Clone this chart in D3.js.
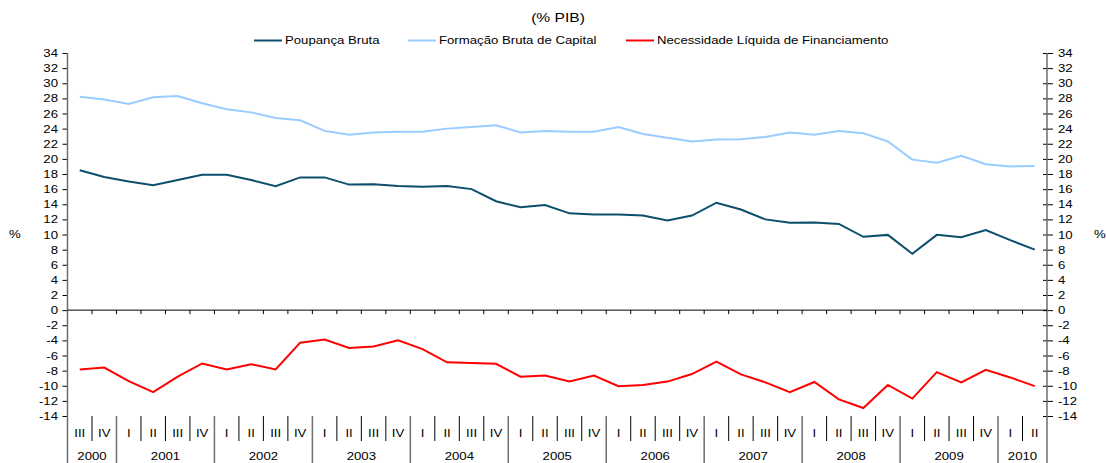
<!DOCTYPE html>
<html>
<head>
<meta charset="utf-8">
<script src="https://cdn.jsdelivr.net/npm/d3@7/dist/d3.min.js"></script>
<style>
  body { margin: 0; background: #fff; }
  text { font-family: "Liberation Sans", Arial, sans-serif; fill: #000; }
</style>
</head>
<body>
<div id="vis"></div>
<script>
// quarters III/2000 .. II/2010
const quarterLabels = [
  'III','IV',
  'I','II','III','IV',
  'I','II','III','IV',
  'I','II','III','IV',
  'I','II','III','IV',
  'I','II','III','IV',
  'I','II','III','IV',
  'I','II','III','IV',
  'I','II','III','IV',
  'I','II','III','IV',
  'I','II'
]
const quarterYears = [
  2000,2000,
  2001,2001,2001,2001,
  2002,2002,2002,2002,
  2003,2003,2003,2003,
  2004,2004,2004,2004,
  2005,2005,2005,2005,
  2006,2006,2006,2006,
  2007,2007,2007,2007,
  2008,2008,2008,2008,
  2009,2009,2009,2009,
  2010,2010
]

const poupanca = [
  18.5, 17.6,
  17.0, 16.5, 17.2, 17.9,
  17.9, 17.2, 16.4, 17.55,
  17.55, 16.6, 16.65, 16.4,
  16.3, 16.4, 16.0, 14.4,
  13.6, 13.9, 12.8, 12.65,
  12.65, 12.5, 11.85, 12.5,
  14.2, 13.3, 12.0, 11.55,
  11.6, 11.4, 9.7, 9.95,
  7.45, 9.95, 9.65, 10.6,
  9.25, 8.0
]
const formacao = [
  28.2, 27.85,
  27.25, 28.15, 28.3, 27.35,
  26.55, 26.15, 25.4, 25.1,
  23.7, 23.2, 23.5, 23.6,
  23.6, 24.0, 24.2, 24.45,
  23.5, 23.7, 23.6, 23.6,
  24.2, 23.3, 22.8, 22.3,
  22.55, 22.6, 22.9, 23.5,
  23.2, 23.7, 23.4, 22.3,
  19.9, 19.5, 20.4, 19.3,
  19.0, 19.05
]
const necessidade = [
  -7.85, -7.6,
  -9.4, -10.85, -8.8, -7.05,
  -7.85, -7.15, -7.85, -4.3,
  -3.9, -5.0, -4.8, -4.0,
  -5.15, -6.9, -7.0, -7.1,
  -8.8, -8.65, -9.45, -8.65,
  -10.05, -9.9, -9.45, -8.45,
  -6.8, -8.5, -9.55, -10.85,
  -9.5, -11.8, -12.95, -9.9,
  -11.7, -8.2, -9.55, -7.9,
  -8.9, -10.05
]

const seriesNames = ['Poupança Bruta', 'Formação Bruta de Capital', 'Necessidade Líquida de Financiamento']
const seriesColors = ['#0b4f6c', '#99ccff', '#ff0000']
const seriesData = [poupanca, formacao, necessidade]

const W = 1106, H = 463
const plotLeft = 67.5, plotRight = 1047
const plotTop = 53, plotBottom = 416
const sx = 1.2   // text in the original is stretched horizontally

const svg = d3.select('#vis')
  .append('svg')
  .attr('width', W)
  .attr('height', H)

const idx = d3.range(quarterLabels.length)

const xScale = d3.scaleBand()
  .domain(idx)
  .range([plotLeft, plotRight])
  .padding(0)
const xc = i => xScale(i) + xScale.bandwidth() / 2

const yScale = d3.scaleLinear()
  .domain([-14, 34])
  .range([plotBottom, plotTop])

function label(x, y, txt, size, anchor) {
  return svg.append('text')
    .attr('transform', `translate(${x},${y}) scale(${sx},1)`)
    .attr('text-anchor', anchor || 'start')
    .style('font-size', size + 'px')
    .text(txt)
}

// title + legend
label(558, 22, '(% PIB)', 13, 'middle')
const legendPos = [254, 408, 626]
seriesNames.forEach((name, k) => {
  svg.append('line')
    .attr('x1', legendPos[k]).attr('x2', legendPos[k] + 28)
    .attr('y1', 40.5).attr('y2', 40.5)
    .attr('stroke', seriesColors[k])
    .attr('stroke-width', 2)
  label(legendPos[k] + 31, 44, name, 11)
})

// y axes (plain hyphen for negatives, like the original)
const ticks = d3.range(-14, 35, 2)
const fmt = d => String(d)
const yLeft = svg.append('g')
  .attr('transform', `translate(${plotLeft},0)`)
  .call(d3.axisLeft(yScale).tickValues(ticks).tickSize(5).tickFormat(fmt))
yLeft.select('.domain').remove()
yLeft.selectAll('text')
  .attr('x', -9.5 / sx)
  .attr('transform', `scale(${sx},1)`)
  .style('font-size', '11px')
  .style('font-family', '"Liberation Sans", Arial, sans-serif')

const yRight = svg.append('g')
  .attr('transform', `translate(${plotRight},0)`)
  .call(d3.axisRight(yScale).tickValues(ticks).tickSize(6).tickFormat(fmt))
yRight.select('.domain').remove()
yRight.selectAll('line').attr('x1', -4)
yRight.selectAll('text')
  .attr('x', 11 / sx)
  .attr('transform', `scale(${sx},1)`)
  .style('font-size', '11px')
  .style('font-family', '"Liberation Sans", Arial, sans-serif')

// vertical axis lines run down through the label area
;[plotLeft, plotRight].forEach(x => {
  svg.append('line')
    .attr('x1', x).attr('x2', x)
    .attr('y1', plotTop).attr('y2', H)
    .attr('stroke', '#6e6e6e')
    .attr('stroke-width', 1.5)
})

label(9, 238, '%', 11)
label(1094, 238, '%', 11)

// zero line with small category ticks
svg.append('line')
  .attr('x1', plotLeft).attr('x2', plotRight)
  .attr('y1', yScale(0)).attr('y2', yScale(0))
  .attr('stroke', '#000')
  .attr('stroke-width', 1)
svg.selectAll('.zeroTick')
  .data(idx.slice(1))
  .join('line')
  .attr('class', 'zeroTick')
  .attr('x1', d => xScale(d)).attr('x2', d => xScale(d))
  .attr('y1', yScale(0)).attr('y2', yScale(0) + 4)
  .attr('stroke', '#000')

// category label area: quarter and year separators
svg.selectAll('.qSep')
  .data(idx.slice(1).filter(i => quarterYears[i] === quarterYears[i - 1]))
  .join('line')
  .attr('class', 'qSep')
  .attr('x1', d => xScale(d)).attr('x2', d => xScale(d))
  .attr('y1', plotBottom).attr('y2', 441)
  .attr('stroke', '#000')
  .attr('stroke-width', 1)

svg.selectAll('.ySep')
  .data(idx.slice(1).filter(i => quarterYears[i] !== quarterYears[i - 1]))
  .join('line')
  .attr('class', 'ySep')
  .attr('x1', d => xScale(d)).attr('x2', d => xScale(d))
  .attr('y1', plotBottom).attr('y2', H)
  .attr('stroke', '#6e6e6e')
  .attr('stroke-width', 1.5)

idx.forEach(i => label(xc(i), 437, quarterLabels[i], 11, 'middle'))

const yearGroups = d3.groups(idx, i => quarterYears[i])
yearGroups.forEach(([year, members]) => {
  const x0 = xScale(members[0])
  const x1 = xScale(members[members.length - 1]) + xScale.bandwidth()
  label((x0 + x1) / 2, 460, year, 11, 'middle')
})

// series lines
const lineGen = d3.line()
  .x((d, i) => xc(i))
  .y(d => yScale(d))

seriesData.forEach((values, k) => {
  svg.append('path')
    .datum(values)
    .attr('d', lineGen)
    .attr('fill', 'none')
    .attr('stroke', seriesColors[k])
    .attr('stroke-width', 2)
})
</script>
</body>
</html>
